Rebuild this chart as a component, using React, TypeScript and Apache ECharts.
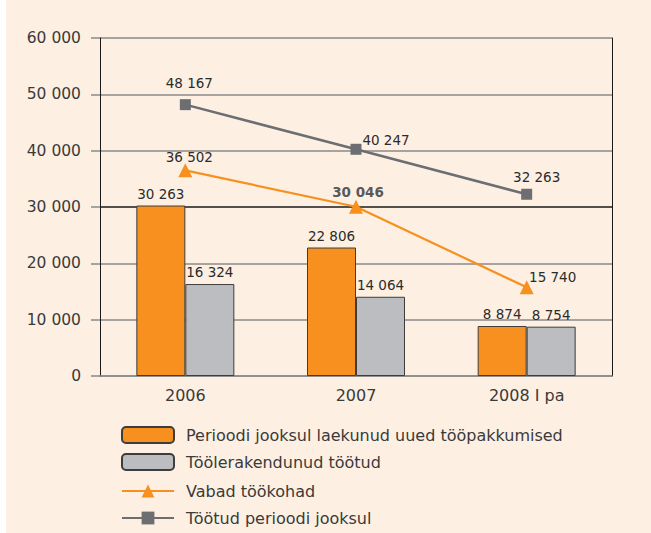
import React, { useEffect, useRef } from "react";
import * as echarts from "echarts";

const categories = ["2006", "2007", "2008 I pa"];
const newOffers = [30263, 22806, 8874];
const employed = [16324, 14064, 8754];
const vacancies = [36502, 30046, 15740];
const unemployed = [48167, 40247, 32263];

const seriesNames = [
  "Perioodi jooksul laekunud uued tööpakkumised",
  "Töölerakendunud töötud",
  "Vabad töökohad",
  "Töötud perioodi jooksul",
];

const fmt = (v: number) => String(v).replace(/\B(?=(\d{3})+(?!\d))/g, " ");

const FONT = "'DejaVu Sans', 'Liberation Sans', Arial, sans-serif";
const TEXT = "#2b2b2b";

// label style tweaks per point (styling only)
const vacancyLabelOffsets = [[4, 6], [2, 4], [26, 9]];
const unemployedLabelOffsets = [[4, -4], [30, 8], [10, 0]];
const legendTops = [421, 448, 478, 505];

export default function App() {
  const ref = useRef<HTMLDivElement>(null);
  useEffect(() => {
    if (!ref.current) return;
    const chart = echarts.init(ref.current, null, { renderer: "svg" });
    const labelBase = {
      show: true,
      position: "top" as const,
      fontSize: 13.5,
      fontFamily: FONT,
      color: TEXT,
      formatter: (p: any) => fmt(p.value),
    };
    chart.setOption({
      animation: false,
      backgroundColor: "#ffffff",
      textStyle: { fontFamily: FONT },
      graphic: [
        {
          type: "rect",
          shape: { x: 6, y: 0, width: 645, height: 533 },
          style: { fill: "#fdf0e3" },
          z: -10,
          silent: true,
        },
      ],
      grid: { left: 100, right: 39, top: 38, bottom: 157, containLabel: false },
      legend: seriesNames.map((name, i) => ({
        orient: "vertical",
        left: 116,
        top: legendTops[i],
        itemWidth: 52,
        itemHeight: 16,
        selectedMode: false,
        textStyle: {
          fontSize: 16,
          color: "#3a3a3a",
          fontFamily: FONT,
          padding: [0, 0, 0, 7],
        },
        data: [name],
      })),
      xAxis: {
        type: "category",
        data: categories,
        axisLine: { show: true, lineStyle: { color: "#8a8a8a", width: 1.5 } },
        axisTick: { show: false },
        axisLabel: { fontSize: 16, color: "#3a3a3a", margin: 11, fontFamily: FONT },
      },
      yAxis: [
        {
          type: "value",
          min: 0,
          max: 60000,
          interval: 10000,
          axisLine: { show: true, lineStyle: { color: "#1a1a1a", width: 1 } },
          axisTick: { show: true, length: 9, lineStyle: { color: "#8a8a8a", width: 1.5 } },
          axisLabel: {
            fontSize: 15.5,
            color: "#3a3a3a",
            margin: 19,
            fontFamily: FONT,
            formatter: (v: number) => fmt(v),
          },
          splitLine: {
            show: true,
            lineStyle: {
              color: ["#8a8a8a", "#8a8a8a", "#8a8a8a", "#1a1a1a", "#8a8a8a", "#8a8a8a", "#8a8a8a"],
              width: 1.5,
            },
          },
        },
        {
          type: "value",
          min: 0,
          max: 60000,
          interval: 10000,
          position: "right",
          axisLine: { show: true, lineStyle: { color: "#1a1a1a", width: 1 } },
          axisTick: { show: false },
          axisLabel: { show: false },
          splitLine: { show: false },
        },
      ],
      series: [
        {
          name: seriesNames[0],
          type: "bar",
          data: newOffers,
          barWidth: 49,
          barGap: "0%",
          itemStyle: { color: "#f7901e", borderColor: "#3d3d3d", borderWidth: 1 },
          label: labelBase,
        },
        {
          name: seriesNames[1],
          type: "bar",
          data: employed,
          barWidth: 49,
          barGap: "0%",
          itemStyle: { color: "#bcbdc0", borderColor: "#3d3d3d", borderWidth: 1 },
          label: labelBase,
        },
        {
          name: seriesNames[2],
          type: "line",
          data: vacancies.map((v, i) => ({
            value: v,
            label: {
              offset: vacancyLabelOffsets[i],
              ...(i === 1 ? { color: "#58595b", fontWeight: "bold" } : {}),
            },
          })),
          symbol: "triangle",
          symbolSize: 14,
          lineStyle: { color: "#f7901e", width: 2.2 },
          itemStyle: { color: "#f7901e" },
          label: labelBase,
          z: 3,
        },
        {
          name: seriesNames[3],
          type: "line",
          data: unemployed.map((v, i) => ({
            value: v,
            label: { offset: unemployedLabelOffsets[i] },
          })),
          symbol: "rect",
          symbolSize: 11,
          lineStyle: { color: "#6d6e71", width: 2.5 },
          itemStyle: { color: "#6d6e71" },
          label: labelBase,
          z: 4,
        },
      ],
    });
    return () => chart.dispose();
  }, []);
  return (
    <div
      ref={ref}
      style={{ position: "absolute", left: 0, top: 0, width: 651, height: 533 }}
    />
  );
}
